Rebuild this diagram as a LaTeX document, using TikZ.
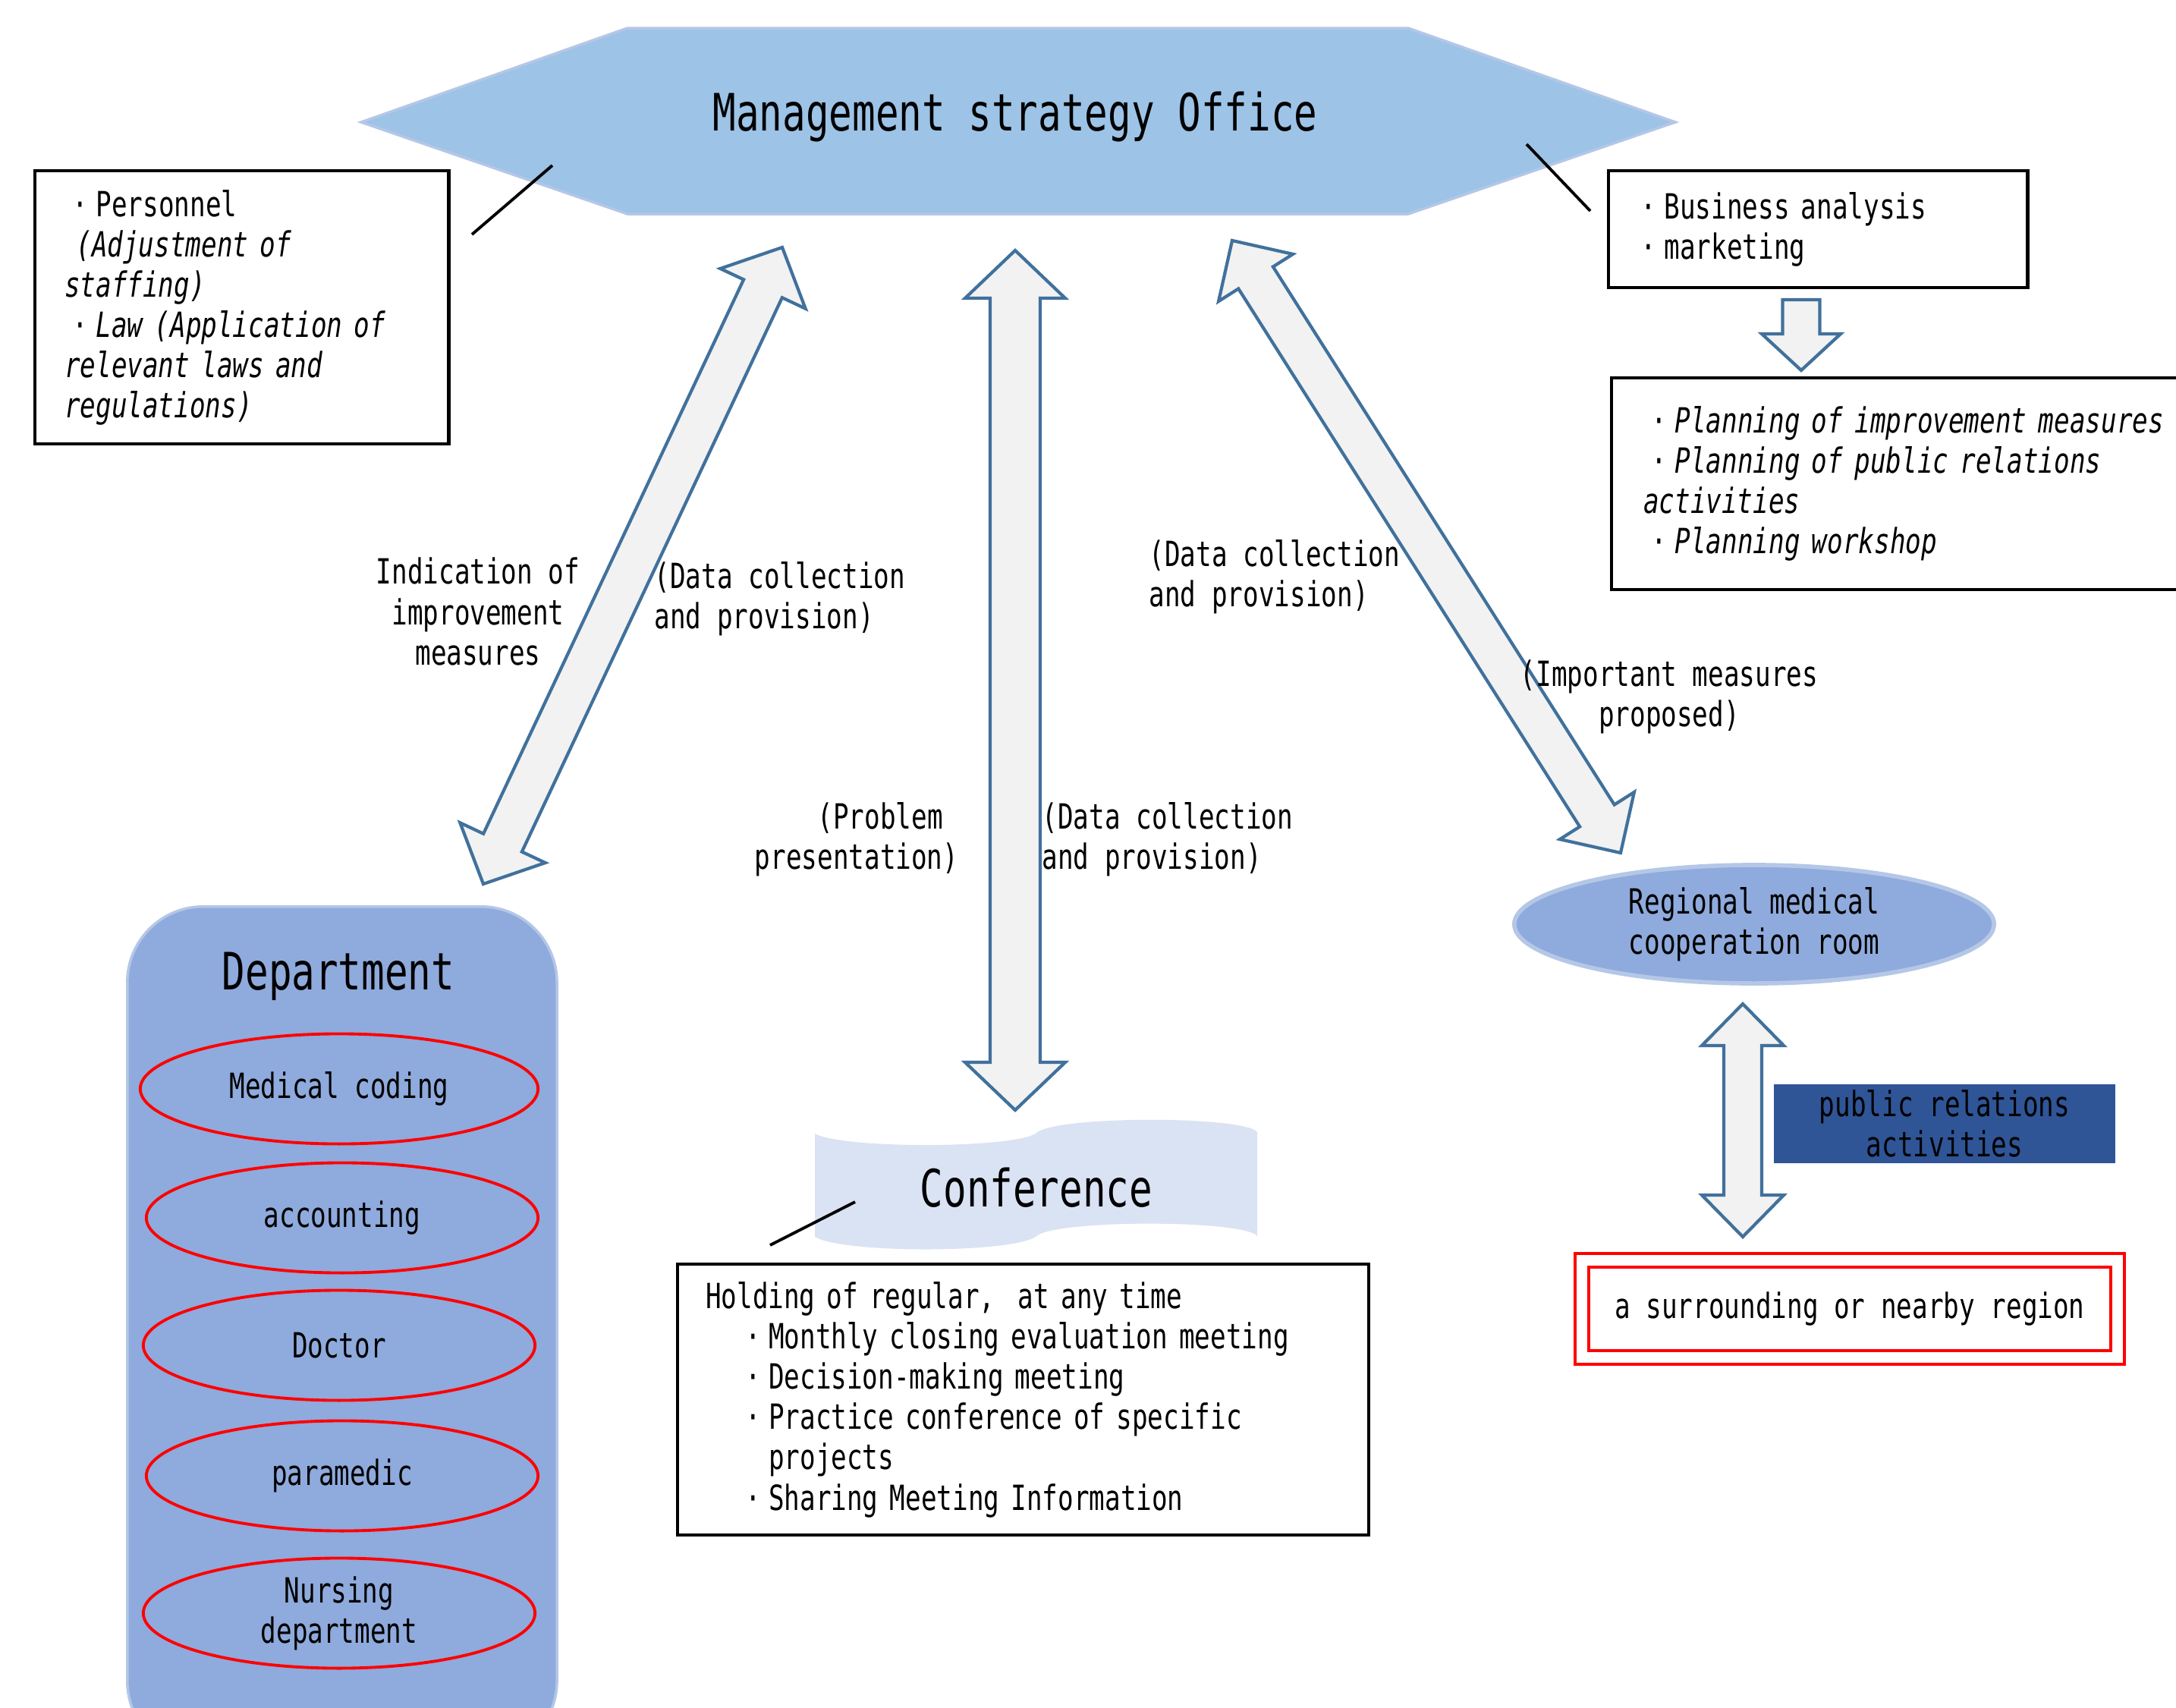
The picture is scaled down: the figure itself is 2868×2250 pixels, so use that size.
\documentclass[tikz,border=0pt]{standalone}
\usepackage{fontspec}
\setmainfont[FakeStretch=0.75]{DejaVu Sans Mono}
\usepackage{tikz}
\usetikzlibrary{shapes.geometric, positioning, calc}
\definecolor{hexblue}{HTML}{9DC3E6}
\definecolor{paleedge}{HTML}{B4C7E7}
\definecolor{deptblue}{HTML}{8FAADC}
\definecolor{confblue}{HTML}{DAE3F3}
\definecolor{prblue}{HTML}{2F5597}
\definecolor{arrowedge}{HTML}{41719C}
\definecolor{arrowfill}{HTML}{F2F2F2}
\newcommand{\normtxt}{\fontsize{13}{15.1}\selectfont}
\newcommand{\bigtxt}{\fontsize{19.3}{22}\selectfont}
\newcommand{\zdot}{\makebox[11.8pt]{·}}
\tikzset{blockarr/.style={draw=arrowedge, fill=arrowfill, line width=1.2pt, line join=miter},
    infobox/.style={draw=black, line width=1.2pt, align=left, anchor=north west, font=\normtxt},
    redell/.style={ellipse, draw=red, line width=1.1pt, inner sep=0pt, minimum width=5.16cm, minimum height=1.45cm, font=\normtxt, align=center},
    lbl/.style={inner sep=0pt, font=\normtxt},
    callout/.style={draw=black, line width=1.1pt}}
% block arrow, two heads: from, to, head length, half head, half shaft
\newcommand{\dblarrow}[5]{%
    \coordinate (h1) at ($(#1)!#3!(#2)$);
    \coordinate (h2) at ($(#2)!#3!(#1)$);
    \draw[blockarr] (#1) -- ($(h1)!#4!90:(#2)$) -- ($(h1)!#5!90:(#2)$) -- ($(h2)!#5!-90:(#1)$) -- ($(h2)!#4!-90:(#1)$) -- (#2)
        -- ($(h2)!#4!90:(#1)$) -- ($(h2)!#5!90:(#1)$) -- ($(h1)!#5!-90:(#2)$) -- ($(h1)!#4!-90:(#2)$) -- cycle;
}
% block arrow, one head
\newcommand{\onearrow}[5]{%
    \coordinate (h2) at ($(#2)!#3!(#1)$);
    \draw[blockarr] ($(#1)!#5!90:(#2)$) -- ($(h2)!#5!-90:(#1)$) -- ($(h2)!#4!-90:(#1)$) -- (#2)
        -- ($(h2)!#4!90:(#1)$) -- ($(h2)!#5!90:(#1)$) -- ($(#1)!#5!-90:(#2)$) -- cycle;
}

\begin{document}
\begin{tikzpicture}[x=0.01cm, y=-0.01cm]
                 \useasboundingbox (0,0) rectangle (2868,2250);

                 % office
                 \filldraw[fill=hexblue, draw=paleedge, line width=1pt] (476,161) -- (827,37) -- (1856,37) -- (2208,161) -- (1856,282) -- (827,282) -- cycle;
                 \node[font=\bigtxt, anchor=base] (office) at (1338,172) {Management strategy Office};

                 \node[infobox, text width=4.67cm, minimum height=3.6cm, inner xsep=0.39cm] (hrbox) at (44,223)
                     {\zdot Personnel\\ \ \textit{(Adjustment of}\\ \textit{staffing)}\\ \zdot\textit{Law (Application of}\\ \textit{relevant laws and}\\ \textit{regulations)}};
                 \node[infobox, text width=4.88cm, minimum height=1.54cm, inner xsep=0.32cm] (bizbox) at (2118,223)
                     {\zdot Business analysis\\ \zdot marketing};
                 \node[infobox, text width=7.16cm, minimum height=2.79cm, inner xsep=0.42cm] (planbox) at (2122,496)
                     {\zdot\textit{Planning of improvement measures}\\ \zdot\textit{Planning of public relations}\\ \textit{activities}\\ \zdot\textit{Planning workshop}};

                 \coordinate (hrtip) at (728,218);
                 \coordinate (hrend) at (622,309);
                 \draw[callout] (hrtip) -- (hrend);
                 \coordinate (biztip) at (2012,190);
                 \coordinate (bizend) at (2096,278);
                 \draw[callout] (biztip) -- (bizend);

                 \coordinate (bizdown) at (2374,395);
                 \coordinate (plantop) at (2374,488);
                 \onearrow{bizdown}{plantop}{0.48cm}{0.52cm}{0.245cm}

                 % department
                 \node[draw=paleedge, fill=deptblue, line width=1pt, rounded corners=1cm, anchor=north west, minimum width=5.66cm, minimum height=11.2cm] (dept) at (166,1193) {};
                 \node[font=\bigtxt, anchor=base] (depttitle) at (446,1304) {Department};
                 \node[redell, minimum width=5.24cm] (coding) at (447,1435) {Medical coding};
                 \node[redell] (accounting) at (451,1605) {accounting};
                 \node[redell] (doctor) at (447,1773) {Doctor};
                 \node[redell] (paramedic) at (451,1945) {paramedic};
                 \node[redell] (nursing) at (447,2126) {Nursing\\department};

                 % conference
                 \fill[confblue] (1074,1494) .. controls (1110,1514) and (1330,1514) .. (1365,1494) .. controls (1385,1470) and (1640,1470) .. (1657,1492)
                     -- (1657,1629) .. controls (1640,1607) and (1385,1607) .. (1365,1630) .. controls (1330,1652) and (1110,1652) .. (1074,1630) -- cycle;
                 \node[font=\bigtxt, anchor=base] (conf) at (1366,1590) {Conference};
                 \node[infobox, text width=8.36cm, minimum height=3.57cm, inner xsep=0.37cm] (confbox) at (891,1664)
                     {Holding of regular,\ \ at any time\\
                      \hspace*{11.8pt}\zdot Monthly closing evaluation meeting\\
                      \hspace*{11.8pt}\zdot Decision-making meeting\\
                      \hspace*{11.8pt}\zdot Practice conference of specific\\
                      \hspace*{23.6pt}projects\\
                      \hspace*{11.8pt}\zdot Sharing Meeting Information};
                 \coordinate (conftip) at (1127,1584);
                 \coordinate (confend) at (1015,1641);
                 \draw[callout] (conftip) -- (confend);

                 % regional side
                 \node[ellipse, fill=deptblue, draw=paleedge, line width=1.6pt, inner sep=0pt, minimum width=6.32cm, minimum height=1.56cm, font=\normtxt, align=center] (regional) at (2312,1218)
                     {Regional medical\\cooperation room};
                 \node[fill=prblue, minimum width=4.49cm, minimum height=1.04cm, inner sep=0pt, font=\normtxt, align=center] (prbox) at (2563,1481)
                     {public relations\\activities};
                 \node[draw=red, double=white, double distance=0.14cm, line width=1.1pt, minimum width=7.06cm, minimum height=1.28cm, font=\normtxt] (region) at (2438,1725)
                     {a surrounding or nearby region};

                 % block arrows
                 \coordinate (officeL) at (1031,326);
                 \coordinate (deptN) at (637,1165);
                 \dblarrow{officeL}{deptN}{0.6cm}{0.62cm}{0.28cm}
                 \coordinate (officeS) at (1338,330);
                 \coordinate (confN) at (1338,1463);
                 \dblarrow{officeS}{confN}{0.63cm}{0.66cm}{0.33cm}
                 \coordinate (officeR) at (1624,317);
                 \coordinate (regionalN) at (2136,1124);
                 \dblarrow{officeR}{regionalN}{0.58cm}{0.58cm}{0.27cm}
                 \coordinate (regionalS) at (2297,1323);
                 \coordinate (regionN) at (2297,1630);
                 \dblarrow{regionalS}{regionN}{0.55cm}{0.54cm}{0.25cm}

                 % labels
                 \node[lbl, align=center] (lblind) at (630,806) {Indication of\\improvement\\measures};
                 \node[lbl, align=left, anchor=west] (lbldata1) at (862,789) {(Data collection\\and provision)};
                 \node[lbl, align=left, anchor=west] (lbldata2) at (1514,760) {(Data collection\\and provision)};
                 \node[lbl, align=center] (lblimp) at (2200,918) {(Important measures\\proposed)};
                 \node[lbl, align=right, anchor=east] (lblprob) at (1264,1106) {(Problem\hphantom{x}\\presentation)};
                 \node[lbl, align=left, anchor=west] (lbldata3) at (1373,1106) {(Data collection\\and provision)};

\end{tikzpicture}
\end{document}
